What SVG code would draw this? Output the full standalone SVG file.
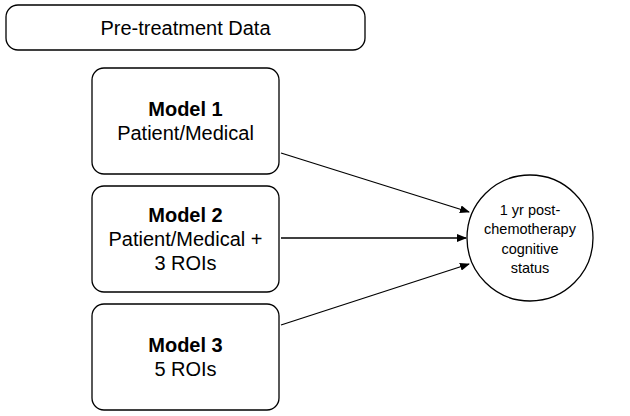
<svg xmlns="http://www.w3.org/2000/svg" width="630" height="416" viewBox="0 0 630 416">
<style>
.b{fill:#fff;stroke:#000;stroke-width:1.3}
text{font-family:"Liberation Sans",Arial,sans-serif;fill:#000;text-anchor:middle}
.t{font-size:20px}
.h{font-size:20px;font-weight:bold}
.c{font-size:14.5px}
.e{stroke:#000;stroke-width:1.3;fill:none;marker-end:url(#a)}
</style>
<defs><marker id="a" markerWidth="10" markerHeight="8" refX="9" refY="4" orient="auto" markerUnits="userSpaceOnUse"><path d="M0,0L10,4L0,8z" fill="#000"/></marker></defs>
<rect width="630" height="416" fill="#fff"/>
<g id="pre"><rect class="b" x="6" y="5" width="359" height="45" rx="12"/><text class="t" x="185.5" y="35">Pre-treatment Data</text></g>
<g id="m1"><rect class="b" x="92" y="68" width="187" height="106" rx="12"/><text class="h" x="185.5" y="116">Model 1</text><text class="t" x="185.5" y="140">Patient/Medical</text></g>
<g id="m2"><rect class="b" x="92" y="186" width="187" height="106" rx="12"/><text class="h" x="185.5" y="222">Model 2</text><text class="t" x="185.5" y="246">Patient/Medical +</text><text class="t" x="185.5" y="270">3 ROIs</text></g>
<g id="m3"><rect class="b" x="92" y="304" width="187" height="106" rx="12"/><text class="h" x="185.5" y="352">Model 3</text><text class="t" x="185.5" y="376">5 ROIs</text></g>
<g id="out"><circle class="b" cx="530" cy="238" r="63"/><text class="c" x="530" y="215">1 yr post-</text><text class="c" x="530" y="234">chemotherapy</text><text class="c" x="530" y="254">cognitive</text><text class="c" x="530" y="273">status</text></g>
<g id="connectors"><path class="e" d="M281,153L469,212"/><path class="e" d="M281,238L466,238"/><path class="e" d="M281,325L469,264"/></g>
</svg>
